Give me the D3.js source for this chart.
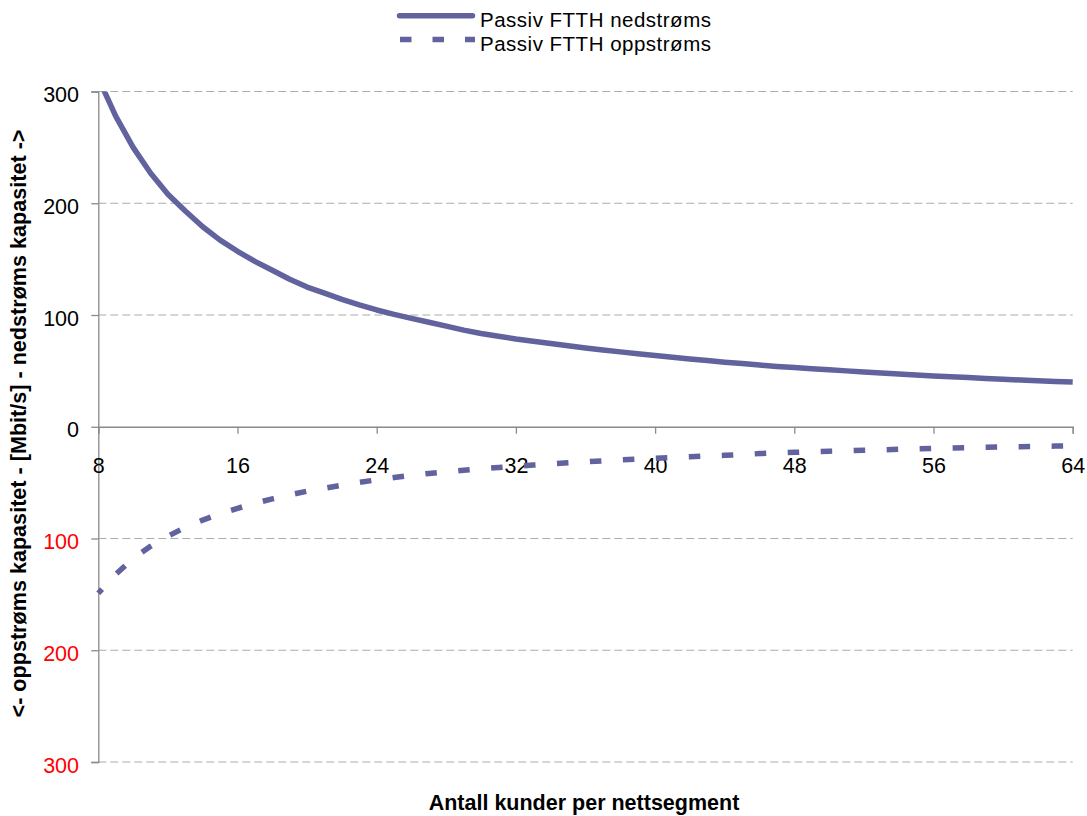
<!DOCTYPE html>
<html>
<head>
<meta charset="utf-8">
<script src="https://cdn.jsdelivr.net/npm/d3@7"></script>
<style>
  html, body { margin: 0; padding: 0; background: #fff; }
  svg { display: block; }
  text { font-family: "Liberation Sans", Arial, sans-serif; }
</style>
</head>
<body>
<script>
// Customers per network segment (category axis)
const customers = [8, 9, 10, 11, 12, 13, 14, 15, 16, 17, 18, 19, 20, 21, 22, 23, 24, 25, 26, 27, 28, 29, 30, 31, 32,
  33, 34, 35, 36, 37, 38, 39, 40, 41, 42, 43, 44, 45, 46, 47, 48, 49, 50, 51, 52, 53, 54, 55, 56, 57, 58, 59, 60,
  61, 62, 63, 64];

// Passive FTTH downstream capacity per customer, Mbit/s
const downstream = [312, 278, 250, 227, 208, 193, 179, 167, 157, 148, 140, 132, 125, 119.5, 114, 109, 104.5, 100.5,
  97, 93.5, 90, 86.5, 83.5, 81, 78.5, 76.5, 74.5, 72.5, 70.5, 68.7, 67, 65.3, 63.8, 62.2, 60.7, 59.2, 57.8, 56.5,
  55.2, 54, 53, 52, 51, 50, 49, 48, 47.2, 46.3, 45.5, 44.7, 44, 43.2, 42.5, 41.8, 41.2, 40.6, 40];

// Passive FTTH upstream capacity per customer, Mbit/s (plotted below zero)
const upstream = [-149, -132, -118, -107, -98, -90, -83.5, -77.8, -73, -68.5, -64.5, -61, -57.7, -55, -52.3, -49.8,
  -47.5, -45.4, -43.5, -41.8, -40.3, -38.9, -37.6, -36.4, -35.3, -34.3, -33.3, -32.3, -31.4, -30.5, -29.7, -29,
  -28.2, -27.5, -26.9, -26.2, -25.6, -25, -24, -23.4, -22.9, -22.4, -21.9, -21.4, -21, -20.6, -20.2, -19.8, -19.4,
  -19, -18.7, -18.4, -18.1, -17.8, -17.5, -17.3, -17];

const xTicks = [8, 16, 24, 32, 40, 48, 56, 64];
const yTicks = [-300, -200, -100, 0, 100, 200, 300];

const seriesNames = ["Passiv FTTH nedstrøms", "Passiv FTTH oppstrøms"];
const xTitle = "Antall kunder per nettsegment";
const yTitle = "<- oppstrøms kapasitet - [Mbit/s] - nedstrøms kapasitet ->";

const W = 1087, H = 816;
const plot = { left: 98.3, right: 1072.7, top: 91.5, bottom: 762 };
const lineColor = "#62629e";
const axisColor = "#8a8a8a";
const gridColor = "#ababab";
const tickFont = 21.5;

const svg = d3.select("body").append("svg").attr("width", W).attr("height", H);

const x = d3.scaleLinear().domain([d3.min(customers), d3.max(customers)]).range([plot.left, plot.right]);
const y = d3.scaleLinear().domain([-300, 300]).range([plot.bottom, plot.top]);

// horizontal dashed gridlines (zero is drawn as the category axis)
svg.append("g").selectAll("line")
  .data(yTicks.filter(v => v !== 0))
  .join("line")
  .attr("x1", plot.left).attr("x2", plot.right)
  .attr("y1", d => y(d)).attr("y2", d => y(d))
  .attr("stroke", gridColor).attr("stroke-width", 1)
  .attr("stroke-dasharray", "8,4");

// value axis: negative values shown in red without sign
const yAxis = svg.append("g")
  .attr("transform", `translate(${plot.left},0)`)
  .call(d3.axisLeft(y).tickValues(yTicks).tickSize(7).tickPadding(12.3).tickFormat(d => Math.abs(d)));
yAxis.select(".domain").attr("stroke", axisColor).attr("stroke-width", 1.3);
yAxis.selectAll(".tick line").attr("stroke", axisColor).attr("stroke-width", 1.3);
yAxis.selectAll(".tick text")
  .attr("font-size", tickFont).attr("dy", "0.47em")
  .attr("fill", d => d < 0 ? "#ff0000" : "#000");

// category axis crossing at zero
const xAxis = svg.append("g")
  .attr("transform", `translate(0,${y(0)})`)
  .call(d3.axisBottom(x).tickValues(xTicks).tickSize(7).tickPadding(23.5).tickFormat(d3.format("d")));
xAxis.select(".domain").attr("stroke", axisColor).attr("stroke-width", 1.3);
xAxis.selectAll(".tick line").attr("stroke", axisColor).attr("stroke-width", 1.3);
xAxis.selectAll(".tick text").attr("font-size", tickFont).attr("fill", "#000");

// clip to the plot area so the first downstream point stops at 300
svg.append("clipPath").attr("id", "plotClip")
  .append("rect").attr("x", 0).attr("y", plot.top).attr("width", W).attr("height", plot.bottom - plot.top);

const line = d3.line().x((d, i) => x(customers[i])).y(d => y(d));

const lines = svg.append("g").attr("clip-path", "url(#plotClip)");
lines.append("path")
  .attr("d", line(downstream))
  .attr("fill", "none").attr("stroke", lineColor).attr("stroke-width", 5.5)
  .attr("stroke-linejoin", "round");
lines.append("path")
  .attr("d", line(upstream))
  .attr("fill", "none").attr("stroke", lineColor).attr("stroke-width", 5.5)
  .attr("stroke-dasharray", "11.5,21.5").attr("stroke-dashoffset", 6)
  .attr("stroke-linejoin", "round");

// legend
const legend = svg.append("g");
legend.append("line").attr("x1", 399.5).attr("x2", 472.5).attr("y1", 15.7).attr("y2", 15.7)
  .attr("stroke", lineColor).attr("stroke-width", 5.5).attr("stroke-linecap", "round");
legend.append("line").attr("x1", 400).attr("x2", 475).attr("y1", 39.5).attr("y2", 39.5)
  .attr("stroke", lineColor).attr("stroke-width", 5.5).attr("stroke-dasharray", "11.5,21");
legend.selectAll("text").data(seriesNames).join("text")
  .attr("x", 480).attr("y", (d, i) => 27 + i * 24)
  .attr("font-size", 20.5).attr("letter-spacing", 0.5).attr("fill", "#000")
  .text(d => d);

// axis titles
svg.append("text")
  .attr("x", (plot.left + plot.right) / 2 - 1.5).attr("y", 810)
  .attr("text-anchor", "middle").attr("font-size", 21.5).attr("font-weight", "bold")
  .text(xTitle);
svg.append("text")
  .attr("transform", "translate(26,423.5) rotate(-90)")
  .attr("text-anchor", "middle").attr("font-size", 21.6).attr("font-weight", "bold")
  .text(yTitle);
</script>
</body>
</html>
